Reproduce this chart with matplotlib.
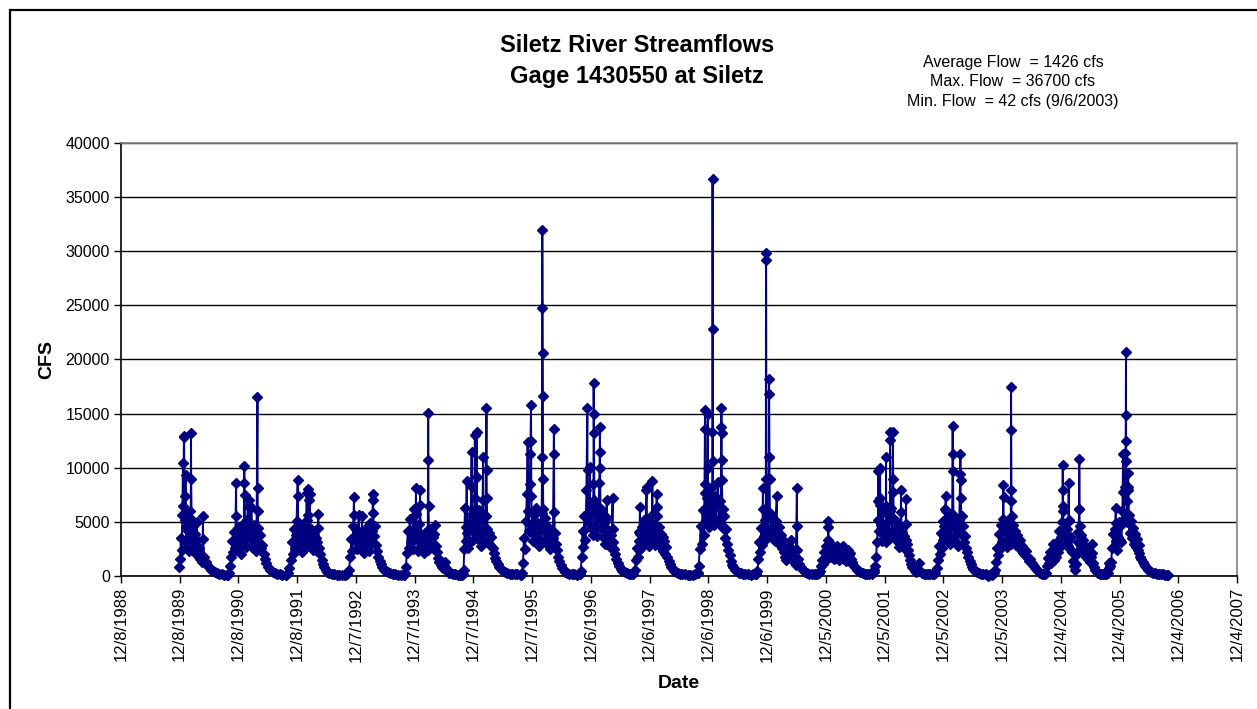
import numpy as np
import pandas as pd
import matplotlib
matplotlib.use('Agg')
import matplotlib.pyplot as plt
from matplotlib.patches import Rectangle

plt.rcParams['font.family'] = ['Liberation Sans', 'DejaVu Sans']

# daily flows, day = days since Oct 1 of the water year
wy1990_day = [65, 70, 75, 80, 84, 88, 90, 94, 95, 98, 101, 104, 107, 110, 114, 118, 122, 126, 130, 134,
              136, 138, 139, 142, 146, 150, 155, 160, 165, 170, 175, 176, 180, 186, 192, 198, 204, 210, 212, 213,
              220, 230, 240, 250, 260, 272, 285, 300, 315, 330, 345, 364]
wy1990_cfs = [800, 1600, 3500, 2400, 5600, 10400, 6500, 12800, 12900, 7400, 5200, 9300, 4500, 3100, 5800,
              2700, 4200, 2300, 3600, 6000, 4800, 13200, 9000, 5200, 3400, 4600, 2600, 3900, 2100, 2900,
              5000, 3300, 2000, 2600, 1600, 1900, 1300, 1500, 5500, 3400, 1800, 1300, 1000, 800, 600,
              450, 350, 250, 180, 140, 120, 130]

wy1991_day = [0, 10, 18, 24, 30, 36, 42, 48, 53, 54, 58, 64, 70, 76, 82, 88, 94, 100, 104, 105,
              106, 110, 116, 122, 127, 130, 134, 140, 144, 148, 152, 156, 162, 168, 174, 180, 186, 187, 188, 192,
              198, 204, 210, 216, 224, 232, 242, 254, 266, 280, 295, 310, 325, 340, 364]
wy1991_cfs = [130, 300, 900, 1800, 3200, 2200, 4100, 2600, 8600, 5500, 3000, 4400, 2500, 3600, 2000,
              3200, 4800, 2900, 10200, 8600, 7500, 4200, 2700, 5200, 6500, 3600, 7000, 4400, 2800, 6400,
              3900, 2600, 4700, 3100, 2300, 3700, 16500, 8100, 6000, 4400, 3000, 3800, 2600, 2900, 2000,
              1600, 1200, 800, 550, 380, 280, 200, 160, 130, 130]

wy1992_day = [0, 10, 20, 28, 34, 40, 46, 52, 58, 64, 71, 72, 76, 82, 88, 94, 100, 106, 112, 118,
              124, 127, 128, 132, 133, 138, 141, 147, 148, 152, 158, 164, 170, 176, 182, 188, 194, 199, 200, 206,
              212, 220, 228, 236, 246, 256, 268, 282, 298, 314, 330, 346, 365]
wy1992_cfs = [130, 250, 700, 1500, 3100, 2000, 4300, 2600, 3800, 5100, 8900, 7400, 3400, 4700, 2700,
              3900, 2200, 3400, 4500, 2600, 3900, 7700, 5200, 8000, 5600, 3200, 7000, 7600, 4400, 2900,
              3800, 2400, 4200, 2800, 3500, 2300, 3100, 5700, 4400, 2600, 2000, 1500, 1100, 800, 550,
              400, 280, 210, 160, 130, 110, 100, 110]

wy1993_day = [0, 12, 24, 32, 38, 44, 50, 55, 56, 60, 66, 72, 78, 84, 90, 96, 102, 104, 108, 114,
              120, 126, 132, 138, 144, 150, 156, 162, 168, 172, 173, 175, 180, 186, 192, 198, 206, 214, 222, 232,
              242, 254, 266, 280, 296, 312, 328, 344, 364]
wy1993_cfs = [110, 200, 600, 1800, 3400, 2300, 4600, 7300, 5600, 3200, 4300, 2500, 3700, 5600, 2900,
              4100, 2600, 5500, 3300, 2100, 3600, 2400, 4400, 2800, 3900, 2300, 4900, 3000, 4200, 7600,
              7000, 5800, 3700, 4600, 2900, 2300, 1800, 1400, 1100, 800, 600, 450, 330, 250, 190,
              150, 120, 100, 100]

wy1994_day = [0, 6, 12, 18, 24, 30, 36, 42, 48, 54, 60, 66, 72, 75, 76, 80, 86, 92, 98, 100,
              101, 106, 112, 118, 124, 130, 136, 142, 148, 151, 152, 153, 156, 162, 168, 174, 180, 186, 190, 193,
              198, 204, 212, 220, 228, 236, 244, 252, 256, 262, 270, 280, 292, 306, 320, 336, 350, 364]
wy1994_cfs = [100, 250, 800, 2100, 4200, 2600, 5300, 3100, 4000, 2500, 6200, 3400, 4500, 8100, 5700,
              3600, 2300, 4800, 3200, 7900, 6600, 3900, 2600, 3500, 2100, 4000, 2700, 3300, 2400, 15100,
              10700, 6500, 4300, 3000, 4200, 2800, 3600, 2500, 3900, 4700, 2800, 2200, 1700, 1300, 1000,
              800, 700, 900, 1300, 700, 450, 320, 250, 190, 150, 130, 120, 130]

wy1995_day = [0, 6, 10, 14, 18, 22, 25, 28, 32, 38, 44, 50, 56, 57, 60, 66, 72, 76, 77, 82,
              87, 88, 92, 98, 104, 110, 116, 122, 128, 129, 134, 140, 144, 148, 149, 150, 154, 160, 166, 172,
              178, 186, 194, 202, 210, 218, 228, 238, 250, 262, 276, 292, 308, 324, 340, 364]
wy1995_cfs = [150, 600, 2500, 6300, 3200, 4500, 8800, 4000, 2600, 4900, 3100, 5600, 11500, 8200, 4300,
              3300, 6000, 13000, 7200, 3900, 13300, 9100, 5200, 3400, 6100, 3700, 2800, 5300, 11000, 7000,
              4200, 3100, 5500, 15500, 9800, 7200, 4300, 3100, 4000, 2900, 3600, 2600, 2100, 1700, 1400,
              1100, 850, 650, 480, 360, 270, 200, 170, 150, 140, 130]

wy1996_day = [0, 5, 10, 16, 22, 28, 34, 39, 42, 46, 52, 56, 60, 61, 62, 66, 72, 78, 84, 90,
              96, 102, 108, 114, 120, 126, 129, 130, 131, 132, 133, 134, 136, 142, 148, 154, 160, 166, 172, 178,
              184, 190, 196, 202, 203, 204, 208, 214, 220, 228, 236, 244, 252, 262, 272, 284, 298, 314, 330, 346,
              365]
wy1996_cfs = [130, 300, 1200, 3500, 2500, 5100, 7600, 12400, 6000, 4200, 8500, 11300, 15800, 12500, 7400,
              4600, 3200, 5600, 3700, 6300, 3500, 4900, 2800, 4400, 3300, 5800, 11000, 32000, 24800, 20600,
              16600, 9000, 6200, 4200, 5400, 3300, 4600, 2900, 3800, 2500, 4100, 2900, 3500, 13600, 11300,
              5900, 4000, 3000, 2400, 1800, 1400, 1000, 750, 520, 380, 270, 200, 160, 140, 130,
              140]

wy1997_day = [0, 4, 8, 14, 20, 26, 32, 38, 44, 45, 48, 54, 60, 61, 64, 70, 76, 82, 83, 84,
              85, 88, 94, 100, 106, 112, 118, 121, 122, 123, 126, 132, 138, 144, 150, 156, 162, 164, 165, 170,
              176, 182, 188, 194, 201, 202, 206, 212, 218, 224, 232, 240, 250, 262, 275, 290, 305, 318, 330, 338,
              346, 354, 360, 364]
wy1997_cfs = [200, 500, 1800, 4200, 2700, 5500, 3300, 7900, 15500, 9800, 5000, 5600, 10100, 6600, 4400,
              6300, 3800, 8500, 17800, 15000, 13200, 7000, 4600, 6400, 3700, 5300, 8600, 11500, 13800, 10000,
              6200, 4300, 5900, 3600, 4900, 3000, 4400, 7000, 5400, 3300, 4200, 2700, 3800, 2800, 7200,
              4300, 3100, 2500, 2000, 1600, 1200, 900, 650, 450, 330, 250, 200, 170, 200, 600,
              1500, 2600, 1800, 3200]

wy1998_day = [0, 3, 6, 7, 10, 16, 22, 28, 34, 40, 46, 48, 49, 52, 58, 64, 70, 76, 80, 83,
              84, 88, 94, 100, 106, 110, 111, 112, 116, 122, 128, 134, 140, 146, 152, 158, 164, 170, 176, 184,
              192, 200, 210, 220, 232, 244, 256, 270, 286, 302, 318, 334, 350, 364]
wy1998_cfs = [2400, 4100, 6400, 3900, 2600, 4500, 3000, 5200, 3400, 4800, 7900, 8200, 5300, 3600, 4400,
              2800, 5000, 3200, 4600, 8800, 5700, 3700, 4700, 2900, 4300, 7600, 6400, 5500, 3500, 4500,
              2800, 3900, 2600, 3600, 2300, 3200, 2000, 2700, 1800, 1400, 1100, 850, 650, 480, 360,
              280, 220, 180, 150, 130, 120, 130, 150, 250]

wy1999_day = [0, 6, 12, 18, 24, 30, 36, 42, 45, 46, 47, 52, 58, 62, 63, 64, 68, 74, 80, 86,
              89, 91, 92, 93, 94, 96, 100, 106, 112, 118, 124, 130, 136, 142, 146, 147, 148, 149, 150, 154,
              160, 166, 172, 178, 184, 190, 198, 206, 214, 222, 232, 242, 254, 266, 280, 296, 312, 328, 344, 364]
wy1999_cfs = [300, 900, 2500, 4600, 3000, 6100, 3800, 7700, 15300, 13600, 8500, 5200, 7200, 15000, 10000,
              6400, 4500, 7600, 4900, 8200, 5400, 13300, 36700, 22800, 10600, 6800, 4700, 7400, 5000, 6600,
              8700, 5300, 6900, 4800, 13800, 15500, 13200, 10700, 8900, 6200, 4400, 5500, 3500, 4300, 3000,
              2400, 1900, 1400, 1050, 800, 580, 420, 320, 250, 190, 160, 140, 130, 140, 170]

wy2000_day = [0, 6, 12, 18, 24, 30, 36, 40, 41, 44, 50, 54, 58, 59, 60, 62, 66, 72, 77, 78,
              79, 80, 81, 84, 90, 96, 102, 108, 114, 120, 126, 127, 132, 138, 144, 150, 156, 162, 168, 176,
              184, 190, 196, 202, 208, 214, 220, 226, 232, 238, 244, 251, 252, 253, 258, 266, 276, 288, 300, 314,
              328, 342, 365]
wy2000_cfs = [170, 500, 1600, 3100, 2200, 4400, 2900, 8100, 6200, 3700, 5200, 3300, 6100, 29800, 29200,
              9000, 5600, 4300, 11000, 18200, 16800, 11000, 9000, 5800, 4100, 5500, 3600, 4700, 3200, 5100,
              7400, 4400, 3300, 4500, 2900, 3800, 2600, 3300, 2200, 1800, 1500, 2300, 1700, 2800, 2000,
              3300, 2400, 1800, 1500, 1200, 1000, 8100, 4600, 2400, 1600, 1100, 800, 550, 380, 280,
              220, 180, 170]

wy2001_day = [0, 10, 20, 30, 38, 44, 50, 56, 62, 68, 74, 78, 80, 81, 84, 90, 96, 102, 108, 114,
              120, 126, 132, 138, 144, 150, 156, 162, 168, 171, 172, 178, 184, 190, 196, 202, 208, 214, 220, 228,
              236, 246, 256, 268, 280, 294, 308, 322, 336, 350, 364]
wy2001_cfs = [160, 190, 300, 500, 900, 1500, 1100, 2200, 1400, 2800, 1900, 3300, 5100, 4500, 2600,
              1800, 3000, 2000, 2600, 1600, 2300, 1700, 2800, 2000, 1500, 2200, 1600, 2000, 2500, 2800,
              2100, 1600, 2000, 1400, 1800, 2400, 1900, 2100, 1600, 1300, 1000, 800, 600, 450, 340,
              260, 210, 180, 170, 200, 400]

wy2002_day = [0, 6, 12, 18, 24, 26, 27, 30, 34, 37, 38, 42, 48, 54, 60, 66, 72, 74, 75, 80,
              86, 92, 98, 99, 100, 104, 110, 116, 117, 118, 122, 128, 134, 140, 146, 152, 158, 164, 167, 168,
              172, 178, 184, 190, 196, 198, 199, 204, 210, 216, 222, 230, 238, 246, 254, 262, 270, 279, 286, 296,
              308, 322, 336, 350, 364]
wy2002_cfs = [600, 900, 1800, 3100, 5200, 9700, 6900, 4200, 6600, 10000, 7200, 4700, 3200, 5900, 3500,
              4800, 3100, 11000, 6500, 4000, 5600, 3400, 6000, 13300, 12600, 6300, 4200, 7800, 13300, 9000,
              5300, 3800, 5100, 3200, 4300, 2700, 4500, 3300, 7900, 5900, 4000, 3000, 3700, 2500, 3300,
              7100, 4800, 3000, 2400, 1900, 1500, 1100, 850, 650, 480, 380, 450, 1200, 500, 300,
              220, 170, 150, 140, 150]

wy2003_day = [0, 8, 16, 24, 30, 36, 42, 48, 54, 60, 66, 72, 78, 80, 81, 84, 90, 96, 102, 108,
              114, 120, 123, 124, 125, 128, 134, 140, 146, 152, 158, 164, 170, 171, 172, 173, 178, 184, 190, 196,
              202, 208, 214, 220, 228, 236, 244, 252, 262, 274, 286, 300, 314, 328, 340, 350, 364]
wy2003_cfs = [150, 180, 300, 700, 1500, 2800, 2000, 4000, 2600, 5100, 3300, 4600, 6200, 7400, 6000,
              3800, 5300, 3400, 4800, 3000, 4500, 5700, 13900, 11300, 9700, 5600, 3700, 4900, 3100, 4300,
              2800, 5200, 9400, 11300, 8900, 7200, 5500, 3800, 4600, 3100, 3700, 2600, 2200, 1800, 1400,
              1100, 850, 650, 480, 350, 260, 200, 160, 140, 42, 110, 140]

wy2004_day = [0, 8, 16, 22, 28, 34, 40, 46, 52, 58, 64, 70, 73, 74, 76, 82, 88, 94, 100, 106,
              112, 118, 120, 121, 122, 123, 124, 128, 134, 140, 146, 152, 158, 164, 170, 176, 182, 188, 194, 200,
              208, 216, 224, 232, 240, 248, 256, 264, 272, 282, 292, 302, 312, 322, 332, 340, 346, 352, 358, 365]
wy2004_cfs = [120, 150, 250, 600, 1300, 2600, 1900, 3900, 2500, 4700, 3100, 5300, 8400, 7300, 4400,
              3000, 4100, 2700, 5000, 3300, 4500, 3000, 6900, 17500, 13500, 7900, 5500, 3900, 4700, 3200,
              4200, 2900, 3800, 3200, 2600, 3300, 2500, 2800, 2100, 2500, 1900, 2300, 1700, 1400, 1600,
              1200, 1000, 900, 700, 520, 380, 250, 180, 150, 170, 300, 900, 1700, 1200, 2200]

wy2005_day = [0, 6, 12, 17, 18, 22, 28, 34, 40, 46, 52, 58, 64, 70, 75, 76, 77, 78, 82, 88,
              94, 100, 106, 112, 113, 114, 118, 124, 130, 136, 142, 148, 152, 156, 162, 168, 174, 178, 179, 180,
              181, 184, 190, 196, 202, 208, 214, 220, 226, 232, 238, 244, 250, 256, 257, 262, 268, 276, 286, 296,
              306, 316, 326, 336, 346, 356, 364]
wy2005_cfs = [1600, 1200, 2100, 3000, 2200, 1500, 2600, 1800, 3100, 2200, 4200, 2700, 3600, 5000, 6500,
              10300, 7900, 6000, 3700, 4800, 3000, 4300, 2800, 5100, 8600, 5200, 3400, 2500, 3600, 2200,
              1400, 900, 550, 1100, 2000, 3100, 4100, 6200, 10800, 6200, 4600, 3000, 3800, 2500, 3300,
              2100, 2800, 1800, 2400, 1600, 2000, 1300, 1800, 3000, 2100, 1200, 850, 600, 400, 280,
              210, 170, 150, 140, 150, 300, 700]

wy2006_day = [0, 6, 12, 18, 24, 30, 36, 41, 42, 43, 46, 52, 58, 64, 70, 76, 82, 86, 88, 92,
              98, 101, 102, 103, 104, 105, 108, 112, 116, 118, 119, 122, 128, 134, 140, 146, 152, 158, 164, 170,
              176, 182, 188, 194, 200, 208, 216, 224, 232, 242, 252, 262, 274, 286, 298, 310, 322, 334, 346, 356,
              364]
wy2006_cfs = [1200, 900, 1300, 2600, 3900, 2700, 4300, 6300, 4900, 3200, 2400, 3600, 5000, 3300, 4600,
              3100, 6000, 11300, 7800, 5300, 8200, 11400, 12500, 14900, 20700, 10600, 6900, 5000, 7900, 9500,
              8200, 5600, 4000, 5100, 3500, 4400, 3000, 3900, 2700, 3400, 2400, 2900, 2100, 1800, 1600,
              1300, 1100, 900, 750, 600, 480, 380, 300, 240, 200, 170, 150, 140, 130, 120,
              120]

years = [
    (1990, wy1990_day, wy1990_cfs), (1991, wy1991_day, wy1991_cfs), (1992, wy1992_day, wy1992_cfs),
    (1993, wy1993_day, wy1993_cfs), (1994, wy1994_day, wy1994_cfs), (1995, wy1995_day, wy1995_cfs),
    (1996, wy1996_day, wy1996_cfs), (1997, wy1997_day, wy1997_cfs), (1998, wy1998_day, wy1998_cfs),
    (1999, wy1999_day, wy1999_cfs), (2000, wy2000_day, wy2000_cfs), (2001, wy2001_day, wy2001_cfs),
    (2002, wy2002_day, wy2002_cfs), (2003, wy2003_day, wy2003_cfs), (2004, wy2004_day, wy2004_cfs),
    (2005, wy2005_day, wy2005_cfs), (2006, wy2006_day, wy2006_cfs),
]

dates = []
flows = []
for wy, days, cfs in years:
    assert len(days) == len(cfs), (wy, len(days), len(cfs))
    start = pd.Timestamp(f'{wy - 1}-10-01')
    dates.extend(start + pd.to_timedelta(days, unit='D'))
    flows.extend(cfs)

# excel date axis: major unit 365 days from 12/8/1988
tick_dates = [pd.Timestamp('1988-12-08') + pd.Timedelta(days=365 * i) for i in range(20)]
tick_labels = [f'{d.month}/{d.day}/{d.year}' for d in tick_dates]

fig = plt.figure(figsize=(12.57, 7.09), dpi=100)
ax = fig.add_axes([121 / 1257, 1 - 576 / 709, (1237 - 121) / 1257, (576 - 143) / 709])

ax.plot(dates, flows, color='#000080', lw=1.4, marker='D', ms=5.6, mec='#000080', mfc='#000080',
        zorder=3, clip_on=False)

ax.set_xlim(tick_dates[0], tick_dates[-1])
ax.set_ylim(0, 40000)
ax.set_yticks(np.arange(0, 40001, 5000))
ax.set_xticks(tick_dates)
ax.set_xticklabels(tick_labels, rotation=90, fontsize=12)
ax.tick_params(axis='y', labelsize=11.5, length=5, width=1, direction='out', pad=3)
ax.tick_params(axis='x', length=5, width=1, direction='out', pad=3)
ax.grid(axis='y', color='black', lw=1)
ax.set_axisbelow(True)
for side in ['top', 'right']:
    ax.spines[side].set_color('#808080')
    ax.spines[side].set_linewidth(1.2)
for side in ['left', 'bottom']:
    ax.spines[side].set_linewidth(1.2)

ax.set_ylabel('CFS', fontsize=14, fontweight='bold', labelpad=7)
ax.set_xlabel('Date', fontsize=14, fontweight='bold', labelpad=10)

fig.text(637 / 1257, 1 - 46 / 709, 'Siletz River Streamflows', ha='center', va='center',
         fontsize=17, fontweight='bold')
fig.text(637 / 1257, 1 - 76 / 709, 'Gage 1430550 at Siletz', ha='center', va='center',
         fontsize=17, fontweight='bold')
fig.text(1013 / 1257, 1 - 82 / 709, 'Average Flow  = 1426 cfs\nMax. Flow  = 36700 cfs\nMin. Flow  = 42 cfs (9/6/2003)',
         ha='center', va='center', fontsize=11.5, linespacing=1.4)

# chart area border (cut off at right and bottom like the original)
fig.patches.append(Rectangle((9.5 / 1257, -0.1), 1.2, 1.1 - 10 / 709, transform=fig.transFigure,
                             fill=False, edgecolor='black', lw=1.6))

fig.savefig('out.png', dpi=100)
